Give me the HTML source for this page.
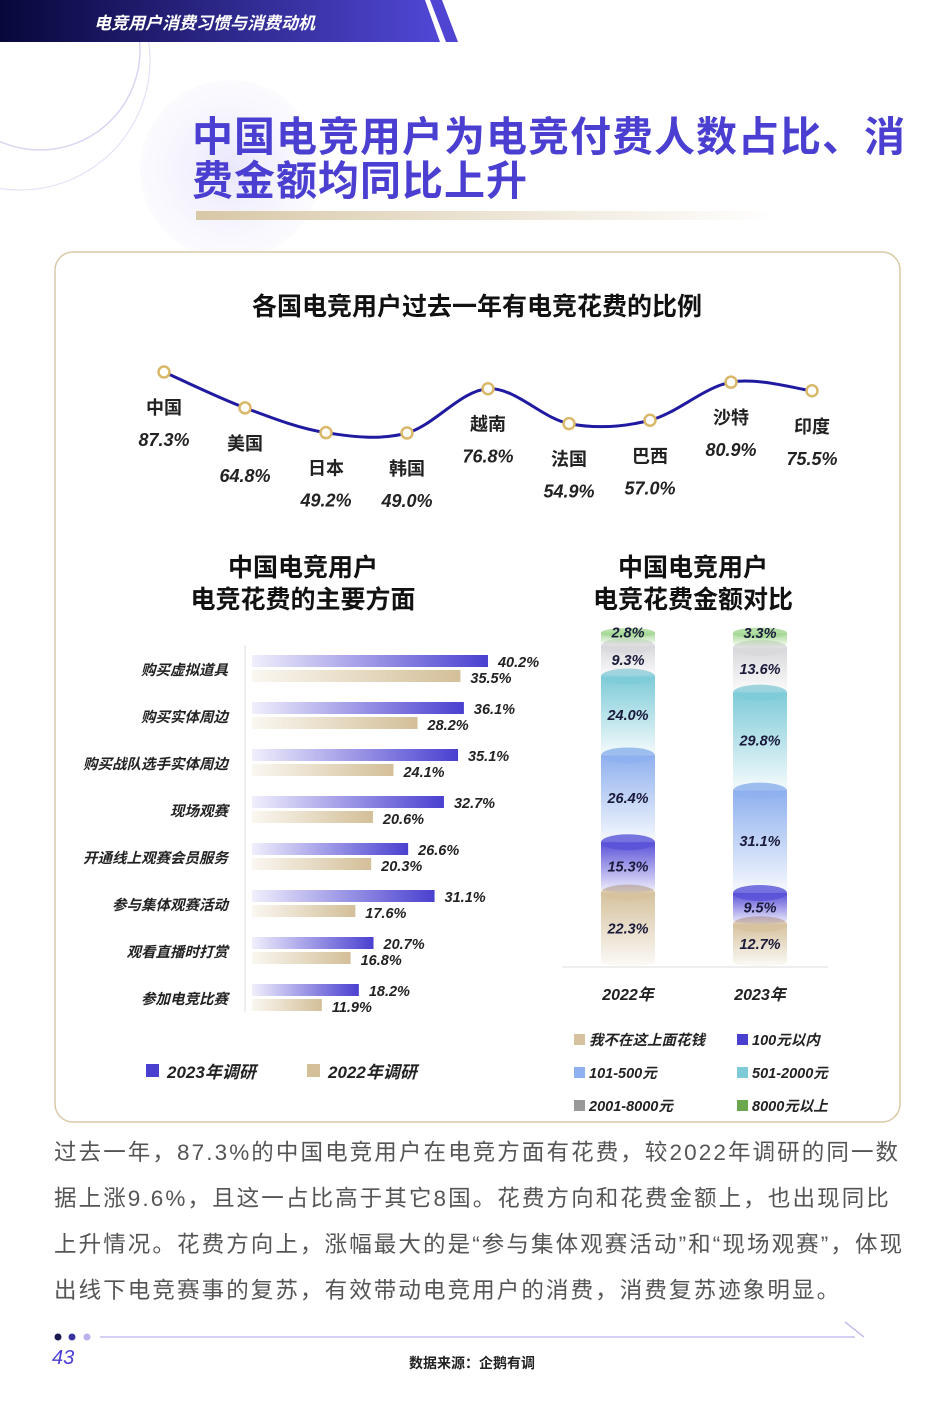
<!DOCTYPE html>
<html><head><meta charset="utf-8">
<style>
html,body{margin:0;padding:0;background:#fff;}
body{width:945px;height:1417px;position:relative;overflow:hidden;font-family:"Liberation Sans","Noto Sans CJK SC",sans-serif;}
svg text{font-family:"Liberation Sans","Noto Sans CJK SC",sans-serif;}
.para{position:absolute;left:54px;top:1130px;width:880px;font-size:22.5px;line-height:46px;color:#555;white-space:nowrap;letter-spacing:2.1px;}
</style></head>
<body>
<svg width="945" height="1417" viewBox="0 0 945 1417" style="position:absolute;left:0;top:0">
<defs>
<linearGradient id="hdr" x1="0" x2="1"><stop offset="0" stop-color="#07073a"/><stop offset="1" stop-color="#5147d6"/></linearGradient>
<linearGradient id="ul" x1="0" x2="1"><stop offset="0" stop-color="#d8c8a8"/><stop offset="1" stop-color="#fff"/></linearGradient>
<radialGradient id="circ" cx="0.5" cy="0.5" r="0.5"><stop offset="0" stop-color="#e8e6fb"/><stop offset="1" stop-color="#f3f2fd" stop-opacity="0.3"/></radialGradient>
<linearGradient id="b23" x1="0" x2="1"><stop offset="0" stop-color="#f0effc"/><stop offset="1" stop-color="#4a40d0"/></linearGradient>
<linearGradient id="b22" x1="0" x2="1"><stop offset="0" stop-color="#faf7f1"/><stop offset="1" stop-color="#d3bf98"/></linearGradient>
</defs>
<circle cx="230" cy="170" r="90" fill="url(#circ)"/>
<circle cx="40" cy="50" r="100" fill="none" stroke="#d9d6f3" stroke-width="1.5"/>
<circle cx="20" cy="60" r="130" fill="none" stroke="#e4e2f7" stroke-width="1.2"/>
<polygon points="0,0 425,0 440,42 0,42" fill="url(#hdr)"/>
<polygon points="430,0 442,0 458,42 446,42" fill="#4f45d2"/>
<text x="94" y="29" font-size="17" font-weight="bold" fill="#fff" font-style="italic">电竞用户消费习惯与消费动机</text>
<text x="192" y="151" font-size="41" font-weight="bold" fill="#4a3fd0" letter-spacing="1">中国电竞用户为电竞付费人数占比、消</text>
<text x="192" y="195" font-size="41" font-weight="bold" fill="#4a3fd0" letter-spacing="1">费金额均同比上升</text>
<rect x="196" y="211" width="580" height="9" fill="url(#ul)"/>
<rect x="55" y="252" width="845" height="870" rx="18" fill="#fff" stroke="#d9c9a6" stroke-width="1.5"/>
<text x="477" y="315" font-size="25" font-weight="bold" fill="#111" text-anchor="middle">各国电竞用户过去一年有电竞花费的比例</text>
<g id="line"></g>
<text x="303" y="576" font-size="25" font-weight="bold" fill="#111" text-anchor="middle">中国电竞用户</text>
<text x="303" y="608" font-size="25" font-weight="bold" fill="#111" text-anchor="middle">电竞花费的主要方面</text>
<text x="693" y="576" font-size="25" font-weight="bold" fill="#111" text-anchor="middle">中国电竞用户</text>
<text x="693" y="608" font-size="25" font-weight="bold" fill="#111" text-anchor="middle">电竞花费金额对比</text>
<line x1="245" y1="645" x2="245" y2="1012" stroke="#ddd"/>
<g id="bars"></g>
<rect x="146" y="1064" width="13" height="13" fill="#4a40d0"/>
<text x="167" y="1078" font-size="17" font-weight="bold" font-style="italic" fill="#222">2023年调研</text>
<rect x="307" y="1064" width="13" height="13" fill="#d3bf98"/>
<text x="328" y="1078" font-size="17" font-weight="bold" font-style="italic" fill="#222">2022年调研</text>
<line x1="562" y1="967" x2="828" y2="967" stroke="#ddd"/>
<g id="stacks"></g>
<g id="slegend"></g>
<circle cx="58" cy="1337" r="3.5" fill="#1a1850"/><circle cx="72" cy="1337" r="3.5" fill="#3a34a0"/><circle cx="87" cy="1337" r="3.5" fill="#b8b3ef"/>
<line x1="100" y1="1337" x2="855" y2="1337" stroke="#b9b4ee" stroke-width="1.3"/>
<line x1="845" y1="1322" x2="864" y2="1337" stroke="#b9b4ee" stroke-width="1.3"/>
<text x="52" y="1364" font-size="20" font-style="italic" fill="#4a3fd0">43</text>
<text x="472" y="1368" font-size="14" font-weight="bold" fill="#222" text-anchor="middle">数据来源：企鹅有调</text>
</svg>
<div class="para">过去一年，87.3%的中国电竞用户在电竞方面有花费，较2022年调研的同一数<br>据上涨9.6%，且这一占比高于其它8国。花费方向和花费金额上，也出现同比<br>上升情况。花费方向上，涨幅最大的是“参与集体观赛活动”和“现场观赛”，体现<br>出线下电竞赛事的复苏，有效带动电竞用户的消费，消费复苏迹象明显。</div>
<script>
const NS="http://www.w3.org/2000/svg";
const countries=["中国","美国","日本","韩国","越南","法国","巴西","沙特","印度"];
const countryVals=[87.3,64.8,49.2,49.0,76.8,54.9,57.0,80.9,75.5];
const barCats=["购买虚拟道具","购买实体周边","购买战队选手实体周边","现场观赛","开通线上观赛会员服务","参与集体观赛活动","观看直播时打赏","参加电竞比赛"];
const vals2023=[40.2,36.1,35.1,32.7,26.6,31.1,20.7,18.2];
const vals2022=[35.5,28.2,24.1,20.6,20.3,17.6,16.8,11.9];
const stackYears=["2022年","2023年"];
const stackCats=["我不在这上面花钱","100元以内","101-500元","501-2000元","2001-8000元","8000元以上"];
const stack2022=[22.3,15.3,26.4,24.0,9.3,2.8];
const stack2023=[12.7,9.5,31.1,29.8,13.6,3.3];
const stackColors=["#d6c29e","#5b52d8","#8fb0ee","#7ecbd8","#d8d8dc","#a6d895"];
const legendColors=["#d6c29e","#4a40d0","#8fb0ee","#7ecbd8","#999999","#6aa84f"];

function el(t,a,p){const e=document.createElementNS(NS,t);for(const k in a)e.setAttribute(k,a[k]);(p||document.querySelector('svg')).appendChild(e);return e;}
const lx=i=>164+i*81, ly=v=>433-(v-49)*1.593;
const lg=document.getElementById('line');
const pts=countryVals.map((v,i)=>[lx(i),ly(v)]);
let d="M"+pts[0][0]+","+pts[0][1];
for(let i=0;i<pts.length-1;i++){const p0=pts[Math.max(0,i-1)],p1=pts[i],p2=pts[i+1],p3=pts[Math.min(pts.length-1,i+2)];
d+=` C${p1[0]+(p2[0]-p0[0])/6},${p1[1]+(p2[1]-p0[1])/6} ${p2[0]-(p3[0]-p1[0])/6},${p2[1]-(p3[1]-p1[1])/6} ${p2[0]},${p2[1]}`;}
const path=el('path',{d:d,fill:'none',stroke:'#1f1aa0','stroke-width':3},lg);


countryVals.forEach((v,i)=>{
 const c=el('circle',{cx:lx(i),cy:ly(v),r:5.5,fill:'#fff',stroke:'#d9b86a','stroke-width':2.5},lg);
 
 
 const t=el('text',{x:lx(i),y:ly(v)+42,'font-size':18,'font-weight':'bold',fill:'#222','text-anchor':'middle'},lg);t.textContent=countries[i];
 
 
 const t2=el('text',{x:lx(i),y:ly(v)+74,'font-size':18,'font-weight':'bold','font-style':'italic',fill:'#222','text-anchor':'middle'},lg);t2.textContent=v.toFixed(1)+"%";
 
 
});
const bg=document.getElementById('bars');
const bx=v=>v*5.87;
barCats.forEach((c,i)=>{
 const y=655+i*47;
 const t=el('text',{x:228,y:y+20,'font-size':14.5,'font-weight':'bold','font-style':'italic',fill:'#222','text-anchor':'end'},bg);t.textContent=c;
 
 
 const r1=el('rect',{x:252,y:y,width:bx(vals2023[i]),height:12,fill:'url(#b23)'},bg);
 
 
 const r2=el('rect',{x:252,y:y+15,width:bx(vals2022[i]),height:12,fill:'url(#b22)'},bg);
 
 
 const a=el('text',{x:252+bx(vals2023[i])+10,y:y+12,'font-size':14.5,'font-weight':'bold','font-style':'italic',fill:'#222'},bg);a.textContent=vals2023[i].toFixed(1)+"%";
 
 
 const b=el('text',{x:252+bx(vals2022[i])+10,y:y+28,'font-size':14.5,'font-weight':'bold','font-style':'italic',fill:'#222'},bg);b.textContent=vals2022[i].toFixed(1)+"%";
 
 
});
const sg=document.getElementById('stacks');
const k=3.29, base=962;
[stack2022,stack2023].forEach((arr,j)=>{
 const x0=601+j*132,w=54,cx=x0+w/2;
 let cum=0;
 arr.forEach((v,i)=>{
  const yb=base-cum*k, yt=base-(cum+v)*k+ (i<arr.length-1?4:0);
  cum+=v;
  const gid='g'+j+'_'+i;
  const lgd=el('linearGradient',{id:gid,x1:0,y1:0,x2:0,y2:1},sg);
  el('stop',{offset:0,'stop-color':stackColors[i]},lgd);
  el('stop',{offset:1,'stop-color':stackColors[i],'stop-opacity':0.08},lgd);
  const ry=Math.min(8,(yb-yt)/2);
  const body=el('path',{d:`M${x0},${yt} L${x0},${yb} A${w/2},${ry/2} 0 0 0 ${x0+w},${yb} L${x0+w},${yt} Z`,fill:'url(#'+gid+')'},sg);
  
  
  el('ellipse',{cx:cx,cy:yt,rx:w/2,ry:ry,fill:stackColors[i],opacity:0.85},sg);
  const t=el('text',{x:cx,y:(i==arr.length-1)?yt+5:(yt+yb)/2+6,'font-size':14.5,'font-weight':'bold','font-style':'italic',fill:'#1a1a3a','text-anchor':'middle'},sg);
  t.textContent=v.toFixed(1)+"%";
  
  
 });
 const yl=el('text',{x:cx,y:1000,'font-size':16,'font-weight':'bold','font-style':'italic',fill:'#222','text-anchor':'middle'},sg);
 yl.textContent=stackYears[j];
 
 
});
const slg=document.getElementById('slegend');
const legPos=[[574,1041],[737,1041],[574,1074],[737,1074],[574,1107],[737,1107]];
stackCats.forEach((c,i)=>{
 const r=el('rect',{x:legPos[i][0],y:legPos[i][1]-7,width:11,height:11,fill:legendColors[i]},slg);
 
 
 const t=el('text',{x:legPos[i][0]+15,y:legPos[i][1]+4,'font-size':14.5,'font-weight':'bold','font-style':'italic',fill:'#222'},slg);
 t.textContent=c;
 
 
});
</script>
</body></html>
